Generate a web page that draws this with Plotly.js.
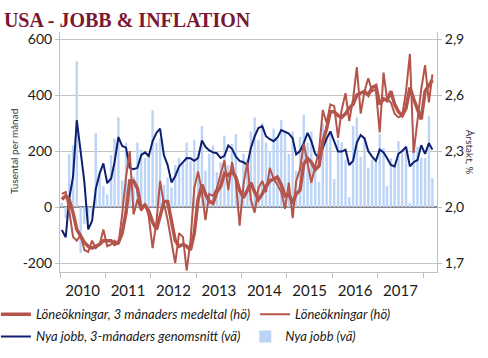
<!DOCTYPE html>
<html>
<head>
<meta charset="utf-8">
<script src="https://cdn.plot.ly/plotly-3.0.1.min.js"></script>
<style>html,body{margin:0;padding:0;background:#fff;}#chart{width:488px;height:358px;}</style>
</head>
<body>
<div id="chart"></div>
<script>
// Monthly data, Jan 2010 - Mar 2018
const startYear = 2010;
const yearLabels = ['2010','2011','2012','2013','2014','2015','2016','2017'];

// Nya jobb (vä), thousands per month
const nyaJobb = [
  15, -40, 190, 220, 520, -165, -60, -55, -30, 265, 120, 75,
  45, 185, 245, 320, 95, 230, 100, 110, 230, 205, 175, 195,
  345, 230, 245, 80, 105, 70, 150, 175, 160, 230, 165, 240,
  190, 290, 130, 190, 220, 125, 160, 255, 150, 225, 260, 50,
  190, 170, 270, 320, 240, 300, 230, 200, 280, 240, 310, 270,
  190, 270, 130, 250, 330, 230, 270, 150, 90, 300, 250, 270,
  100, 240, 230, 170, 35, 290, 320, 180, 250, 140, 170, 160,
  260, 210, 75, 175, 150, 235, 195, 220, 14, 240, 215, 175,
  175, 325, 103
];

// Nya jobb, 3-månaders genomsnitt (vä)
const nyaJobb3m = [
  -82, -108, 30, 108, 310, 190, 90, -80, -50, 65, 120, 156,
  85, 102, 160, 250, 218, 212, 140, 135, 140, 185, 195, 182,
  235, 265, 280, 185, 150, 88, 110, 145, 160, 175, 174, 165,
  175, 238, 215, 202, 195, 192, 175, 183, 220, 208, 180, 165,
  160, 150, 210, 252, 282, 289, 253, 242, 235, 248, 275, 268,
  262, 245, 188, 200, 228, 265, 235, 190, 174, 210, 245, 270,
  235, 198, 198, 205, 150, 165, 230, 257, 245, 200, 180, 165,
  205, 195, 175, 150, 145, 190, 200, 215, 145, 160, 168, 221,
  190, 228, 205
];

// Löneökningar (hö), % y/y
const loneokningar = [
  2.07, 2.08, 1.98, 1.84, 1.82, 1.85, 1.77, 1.76, 1.82, 1.78, 1.80, 1.88,
  1.79, 1.80, 1.82, 1.80, 1.96, 2.16, 2.30, 1.96, 2.04, 1.98, 2.02, 1.95,
  1.78, 1.92, 2.14, 2.02, 1.93, 1.82, 1.70, 1.86, 1.84, 1.66, 1.82, 2.10,
  2.19, 2.08, 1.93, 2.07, 2.06, 2.10, 2.18, 2.25, 2.09, 2.24, 2.14, 1.90,
  2.12, 2.24, 2.04, 1.97, 2.10, 2.14, 2.08, 2.21, 2.15, 2.12, 2.08, 1.99,
  2.13, 1.94, 2.14, 2.20, 2.34, 2.24, 2.13, 2.22, 2.30, 2.52, 2.45, 2.55,
  2.54, 2.37, 2.52, 2.61, 2.46, 2.58, 2.75, 2.50, 2.62, 2.69, 2.62, 2.63,
  2.40, 2.72, 2.58, 2.56, 2.50, 2.48, 2.49, 2.62, 2.82, 2.29, 2.48, 2.63,
  2.76, 2.56, 2.71
];

// Löneökningar, 3 månaders medeltal (hö)
const loneokningar3m = [
  2.04, 2.06, 2.04, 1.97, 1.88, 1.84, 1.81, 1.79, 1.78, 1.79, 1.80, 1.82,
  1.82, 1.82, 1.80, 1.81, 1.86, 1.97, 2.14, 2.14, 2.10, 1.99, 2.01, 1.98,
  1.92, 1.88, 1.95, 2.03, 2.03, 1.92, 1.82, 1.79, 1.80, 1.79, 1.77, 1.86,
  2.04, 2.12, 2.07, 2.03, 2.02, 2.08, 2.11, 2.18, 2.17, 2.19, 2.16, 2.09,
  2.05, 2.09, 2.13, 2.08, 2.04, 2.07, 2.11, 2.14, 2.15, 2.16, 2.12, 2.06,
  2.07, 2.02, 2.07, 2.09, 2.23, 2.26, 2.24, 2.20, 2.22, 2.35, 2.42, 2.51,
  2.51, 2.49, 2.48, 2.50, 2.53, 2.55, 2.60, 2.61, 2.62, 2.60, 2.64, 2.65,
  2.55, 2.58, 2.57, 2.62, 2.55, 2.51, 2.49, 2.53, 2.64, 2.58, 2.53, 2.47,
  2.62, 2.65, 2.68
];

const months = nyaJobb.map((_, i) => {
  const y = startYear + Math.floor(i / 12);
  const m = (i % 12) + 1;
  return y + '-' + String(m).padStart(2, '0') + '-16';
});

const red = '#B4544A';
const navy = '#0E1F70';
const blue = '#BCD5F7';
const font = 'Lato, "Open Sans", sans-serif';

const traces = [
  { type: 'bar', x: months, y: nyaJobb, name: 'Nya jobb (vä)', marker: { color: blue },
    yaxis: 'y', legend: 'legend2', legendrank: 2 },
  { type: 'scatter', mode: 'lines', x: months, y: nyaJobb3m, name: 'Nya jobb, 3-månaders genomsnitt (vä)',
    line: { color: navy, width: 2 }, yaxis: 'y', legend: 'legend2', legendrank: 1 },
  { type: 'scatter', mode: 'lines', x: months, y: loneokningar, name: 'Löneökningar (hö)',
    line: { color: red, width: 2 }, yaxis: 'y2', legend: 'legend', legendrank: 2 },
  { type: 'scatter', mode: 'lines', x: months, y: loneokningar3m, name: 'Löneökningar, 3 månaders medeltal (hö)',
    line: { color: red, width: 3.5 }, yaxis: 'y2', legend: 'legend', legendrank: 1 }
];

const legendFont = { size: 13, family: font, style: 'italic', color: '#1a1a1a' };

const layout = {
  width: 488, height: 358,
  margin: { l: 60, r: 51, t: 32, b: 86, autoexpand: false },
  paper_bgcolor: '#fff', plot_bgcolor: '#fff',
  separators: ', ',
  font: { family: font, color: '#1a1a1a' },
  bargap: 0.3,
  showlegend: true,
  title: {
    text: '<b>USA - JOBB &amp; INFLATION</b>',
    xref: 'container', yref: 'container', x: 0.008, xanchor: 'left', y: 0.945, yanchor: 'middle',
    font: { family: '"Liberation Serif", "DejaVu Serif", serif', size: 20, color: '#7B1732' }
  },
  xaxis: {
    type: 'date',
    range: ['2010-01-01', '2018-04-22'],
    tick0: '2010-01-01', dtick: 'M12', tickformat: '%Y', ticklabelmode: 'period',
    ticks: 'outside', ticklen: 5, tickcolor: '#bfbfbf',
    showline: true, linecolor: '#bfbfbf', linewidth: 1,
    showgrid: false, zeroline: false,
    tickfont: { size: 15, family: font, color: '#1a1a1a' }
  },
  yaxis: {
    range: [-232, 625],
    tickvals: [-200, 0, 200, 400, 600],
    ticktext: ['-200', '0', '200', '400', '600'],
    showgrid: true, gridcolor: '#c4c4c4', gridwidth: 1,
    zeroline: true, zerolinecolor: '#8a8a8a', zerolinewidth: 2,
    showline: true, linecolor: '#bfbfbf',
    ticks: 'outside', ticklen: 4, tickcolor: '#bfbfbf',
    tickfont: { size: 14, family: font, color: '#1a1a1a' }
  },
  yaxis2: {
    overlaying: 'y', side: 'right',
    range: [1.652, 2.9375],
    tickvals: [1.7, 2.0, 2.3, 2.6, 2.9],
    tickformat: '.1f',
    showgrid: false, zeroline: false,
    showline: true, linecolor: '#bfbfbf',
    ticks: 'outside', ticklen: 4, tickcolor: '#bfbfbf',
    tickfont: { size: 14, family: font, color: '#1a1a1a' }
  },
  annotations: [
    { text: 'Tusental per månad', xref: 'paper', yref: 'paper', x: -0.122, y: 0.5,
      xanchor: 'center', yanchor: 'middle', textangle: -90, showarrow: false,
      font: { size: 10, family: font, color: '#333' } },
    { text: 'Årstakt, %', xref: 'paper', yref: 'paper', x: 1.088, y: 0.5,
      xanchor: 'center', yanchor: 'middle', textangle: 90, showarrow: false,
      font: { size: 10, family: font, color: '#333' } }
  ],
  legend: {
    orientation: 'h', xref: 'paper', yref: 'paper',
    x: -0.170, xanchor: 'left', y: -0.114, yanchor: 'top',
    font: legendFont, itemwidth: 30, traceorder: 'normal',
    bgcolor: 'rgba(0,0,0,0)'
  },
  legend2: {
    orientation: 'h', xref: 'paper', yref: 'paper',
    x: -0.170, xanchor: 'left', y: -0.206, yanchor: 'top',
    font: legendFont, itemwidth: 30, traceorder: 'normal',
    bgcolor: 'rgba(0,0,0,0)'
  }
};

Plotly.newPlot('chart', traces, layout, { displayModeBar: false, staticPlot: true });
</script>
</body>
</html>
